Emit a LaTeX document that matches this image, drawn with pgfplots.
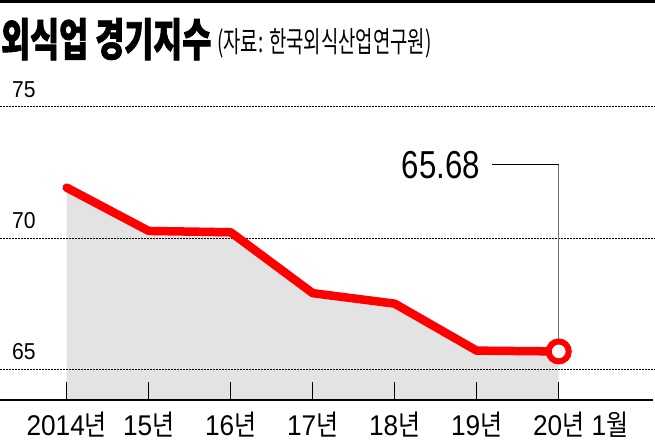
\documentclass[border=0pt]{standalone}
\usepackage{pgfplots}
\pgfplotsset{compat=1.18}
\usepackage{fontspec}
\setmainfont{Liberation Sans}[FakeStretch=0.92]
\newfontfamily\kr{Noto Sans CJK KR}[FakeStretch=0.84]
\newfontfamily\krt{Noto Sans CJK KR}[FakeStretch=0.70, BoldFeatures={FakeBold=1.5}]
\newfontfamily\krs{Noto Sans CJK KR}[FakeStretch=0.65]
\newfontfamily\numf{Liberation Sans}[FakeStretch=0.80]
\definecolor{fillgray}{RGB}{227,227,227}
\definecolor{lred}{RGB}{255,0,0}
\begin{document}
\begin{tikzpicture}
\path[use as bounding box] (0pt,0pt) rectangle (655pt,441pt);
\fill[black] (0pt,438pt) rectangle (655pt,441pt);
\node[anchor=base west, inner sep=0] at (1pt,385pt) {\fontsize{45}{45}\selectfont\krt\bfseries 외식업 경기지수};
\node[anchor=base west, inner sep=0] at (217pt,388pt) {\fontsize{29}{29}\selectfont\krs (자료: 한국외식산업연구원)};
\begin{axis}[
  at={(0pt,41pt)}, anchor=south west, scale only axis,
  width=655pt, height=320pt,
  xmin=-0.8134, xmax=7.174, ymin=63.83, ymax=76.02,
  axis on top,
  axis line style={draw=none},
  xtick={0,1,2,3,4,5,6},
  xticklabels={{2014{\kr 년}},{15{\kr 년}},{16{\kr 년}},{17{\kr 년}},{18{\kr 년}},{19{\kr 년}},{\hphantom{\ 1{\kr 월}}20{\kr 년} 1{\kr 월}}},
  xtick pos=left, tick align=inside,
  major tick length=18pt,
  xtick style={black, line width=0.9pt},
  xticklabel style={anchor=north, inner sep=0, text depth=0pt, yshift=-12pt, font=\fontsize{28.5}{28.5}\selectfont},
  ytick={65,70,75},
  yticklabels={65,70,75},
  ytick style={draw=none},
  yticklabel style={anchor=south west, inner sep=0, xshift=12pt, yshift=9pt, font=\fontsize{23}{23}\selectfont},
  clip=false,
]
\addplot[fill=fillgray, draw=none] coordinates {
  (0,63.83) (0,71.92) (1,70.27) (2,70.22) (3,67.90) (4,67.50) (5,65.71) (6,65.68) (6,63.83)};
\draw[black, line width=0.8pt, dash pattern=on 1.5pt off 1.5pt] (axis cs:-0.8134,65) -- (axis cs:7.174,65);
\draw[black, line width=0.8pt, dash pattern=on 1.5pt off 1.5pt] (axis cs:-0.8134,70) -- (axis cs:7.174,70);
\draw[black, line width=0.8pt, dash pattern=on 1.5pt off 1.5pt] (axis cs:-0.8134,75) -- (axis cs:7.174,75);
\draw[black, line width=1.5pt] (axis cs:-0.8134,63.83) -- (axis cs:7.15,63.83);
\addplot[lred, line width=8.5pt, line cap=round, line join=round, mark=none] coordinates {
  (0,71.92) (1,70.27) (2,70.22) (3,67.90) (4,67.50) (5,65.71) (6,65.68)};
\draw[black!55, line width=1pt] (axis cs:6,72.79) -- (axis cs:6,65.68);
\draw[black, line width=1pt] (axis cs:5.187,72.79) -- (axis cs:6,72.79);
\node[anchor=east, inner sep=0] at (axis cs:5.04,72.79) {\fontsize{39}{39}\selectfont\numf 65.68};
\addplot[lred, line width=6pt, mark=*, mark size=10pt, mark options={fill=white, draw=lred}] coordinates {(6,65.68)};
\end{axis}
\end{tikzpicture}
\end{document}
